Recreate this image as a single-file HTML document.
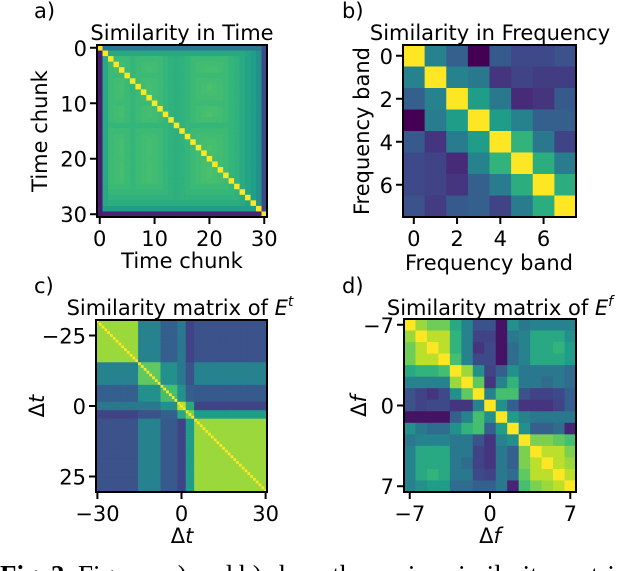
<!DOCTYPE html>
<html><head><meta charset="utf-8"><style>
html,body{margin:0;padding:0;background:#fff;overflow:hidden}
svg{display:block}
text{font-family:"DejaVu Sans","Liberation Sans",sans-serif;fill:#000}
</style></head><body>
<svg id="fig" width="640" height="571" viewBox="0 0 640 571" xmlns="http://www.w3.org/2000/svg">
<g id="content"></g>
<text x="0" y="584" style="font-family:'Liberation Serif',serif;font-size:27px"><tspan font-weight="bold">Fig. 3.</tspan> Figures a) and b) show the cosine similarity matrices</text>
</svg>
<script>
// ---- Panel a data: row / column level profiles (31 time chunks)
const timeRowLevel = [0.4,0.6,0.68,0.69,0.7,0.68,0.69,0.71,0.7,0.69,0.68,0.7,0.71,0.69,0.66,0.68,0.69,0.7,0.71,0.7,0.69,0.7,0.71,0.72,0.7,0.68,0.66,0.64,0.62,0.56,0.1];
const timeColLevel = [0.08,0.6,0.68,0.69,0.7,0.68,0.66,0.68,0.69,0.7,0.69,0.68,0.66,0.64,0.63,0.64,0.66,0.68,0.69,0.7,0.71,0.7,0.69,0.68,0.66,0.64,0.61,0.58,0.56,0.5,0.22];
// ---- Panel b data: 8x8 frequency-band similarity
const freqMatrix = [
[1,.45,.3,.0,.28,.22,.22,.25],
[.45,1,.45,.4,.15,.2,.18,.18],
[.3,.45,1,.55,.4,.12,.15,.28],
[.0,.42,.55,1,.55,.45,.3,.3],
[.28,.15,.42,.55,1,.65,.4,.2],
[.22,.2,.12,.45,.65,1,.62,.42],
[.22,.2,.15,.3,.42,.62,1,.62],
[.25,.18,.28,.3,.2,.42,.62,1]];
const freqTicks = [0,2,4,6];
// ---- Panel c data: block structure over Δt segments
const dtSegmentStarts = [-30,-15,-7,-1,2,5];
const dtSegmentEnds   = [-16,-8,-2,1,4,30];
const dtBlock = [
[.85,.45,.3,.4,.2,.25],
[.45,.75,.5,.4,.25,.45],
[.3,.5,.7,.5,.3,.28],
[.4,.4,.5,.9,.6,.2],
[.2,.25,.3,.6,.8,.55],
[.25,.45,.28,.2,.55,.85]];
const dtTicksY = [-25,0,25];
const dtTicksX = [-30,0,30];
// ---- Panel d data: 15x15 Δf similarity
const dfMatrix = [
[1,.85,.78,.78,.6,.45,.25,.25,.05,.5,.4,.45,.45,.45,.45],
[.85,1,.9,.9,.65,.45,.2,.2,.05,.4,.45,.6,.6,.6,.5],
[.78,.9,1,.9,.65,.45,.15,.22,.05,.35,.45,.6,.6,.65,.55],
[.78,.9,.9,1,.7,.45,.22,.22,.05,.35,.45,.6,.6,.6,.55],
[.6,.65,.65,.7,1,.85,.5,.2,.3,.5,.4,.4,.4,.4,.35],
[.45,.45,.45,.45,.85,1,.75,.15,.45,.65,.4,.4,.35,.4,.35],
[.25,.2,.15,.22,.5,.75,1,.45,.7,.7,.25,.2,.2,.22,.3],
[.25,.2,.22,.22,.15,.15,.45,1,.5,.3,.15,.15,.15,.2,.3],
[.05,.05,.05,.05,.3,.45,.7,.5,1,.55,.45,.4,.4,.4,.4],
[.5,.4,.35,.35,.5,.65,.7,.3,.55,1,.5,.3,.3,.35,.1],
[.4,.45,.45,.45,.4,.4,.25,.15,.45,.5,1,.8,.8,.75,.7],
[.45,.6,.6,.6,.4,.4,.2,.15,.4,.3,.8,1,.9,.9,.8],
[.45,.6,.6,.6,.4,.35,.2,.15,.4,.3,.8,.9,1,.9,.85],
[.45,.6,.65,.6,.4,.4,.22,.2,.4,.35,.75,.9,.9,1,.9],
[.45,.5,.55,.55,.35,.35,.3,.3,.4,.1,.7,.8,.85,.9,1]];
const dfTicks = [-7,0,7];

const NS = "http://www.w3.org/2000/svg";
const root = document.getElementById('content');
const FS = 21;
const VIR = [[68,1,84],[72,40,120],[62,74,137],[49,104,142],[38,130,142],[31,158,137],[53,183,121],[109,205,89],[180,222,44],[253,231,37]];
function viridis(v){
  v=Math.max(0,Math.min(1,v));
  const t=v*(VIR.length-1), i=Math.min(VIR.length-2,Math.floor(t)), f=t-i;
  const c=VIR[i].map((a,k)=>Math.round(a+(VIR[i+1][k]-a)*f));
  return `rgb(${c[0]},${c[1]},${c[2]})`;
}
function mk(tag, attrs, parent){
  const e=document.createElementNS(NS,tag);
  for(const k in attrs) e.setAttribute(k,attrs[k]);
  (parent||root).appendChild(e); return e;
}
function txt(str, x, y, size, anchor, parent, rot){
  const t=mk('text',{x:x,y:y,'font-size':size,'text-anchor':anchor||'middle'},parent);
  if(rot) t.setAttribute('transform',`rotate(-90 ${x} ${y})`);
  t.textContent=str; return t;
}
function panel(name, box, n, valFn, lo, hi, xt, yt){
  const g=mk('g',{});
  
  
  const cw=(box.x1-box.x0)/n, ch=(box.y1-box.y0)/n;
  for(let i=0;i<n;i++)for(let j=0;j<n;j++){
    const r=mk('rect',{x:box.x0+j*cw,y:box.y0+i*ch,width:cw+0.4,height:ch+0.4,fill:viridis(valFn(i,j))},g);
    
    
  }
  const fr=mk('rect',{x:box.x0,y:box.y0,width:box.x1-box.x0,height:box.y1-box.y0,fill:'none',stroke:'#000','stroke-width':2},g);
  
  
  const sx=v=>box.x0+(v-lo+0.5)*cw, sy=v=>box.y0+(v-lo+0.5)*ch;
  xt.forEach(v=>{
    const x=sx(v);
    mk('line',{x1:x,x2:x,y1:box.y1,y2:box.y1+7,stroke:'#000','stroke-width':2},g);
    const t=txt(String(v).replace('-','\u2212'),x,box.y1+29,FS,'middle',g);
    
    
  });
  yt.forEach(v=>{
    const y=sy(v);
    mk('line',{x1:box.x0-7,x2:box.x0,y1:y,y2:y,stroke:'#000','stroke-width':2},g);
    const t=txt(String(v).replace('-','\u2212'),box.x0-10,y+8,FS,'end',g);
    
    
  });
  return g;
}
panel('panel-a-time-heatmap',{x0:97,y0:45,x1:267,y1:217},31,
  (i,j)=> i===j?1:Math.min(timeRowLevel[i],timeColLevel[j]),0,30,[0,10,20,30],[0,10,20,30]);
panel('panel-b-frequency-heatmap',{x0:403,y0:45,x1:576,y1:217},8,
  (i,j)=>freqMatrix[i][j],0,7,freqTicks,freqTicks);
function seg(v){for(let k=0;k<dtSegmentStarts.length;k++) if(v>=dtSegmentStarts[k]&&v<=dtSegmentEnds[k]) return k; return 0;}
panel('panel-c-dt-heatmap',{x0:96,y0:320,x1:267,y1:492},61,
  (i,j)=>{const a=i-30,b=j-30; if(a===b) return 1; return dtBlock[seg(a)][seg(b)];},-30,30,dtTicksX,dtTicksY);
panel('panel-d-df-heatmap',{x0:404,y0:319,x1:576,y1:492},15,
  (i,j)=>dfMatrix[i][j],-7,7,dfTicks,dfTicks);

const L=[
 ['panel-a-label','a)',34,18,FS,'start'],
 ['panel-b-label','b)',342,18,FS,'start'],
 ['panel-c-label','c)',34,293,FS,'start'],
 ['panel-d-label','d)',342,293,FS,'start'],
 ['panel-a-title','Similarity in Time',182,40,FS,'middle'],
 ['panel-b-title','Similarity in Frequency',490,40,FS,'middle'],
 ['panel-a-x-label','Time chunk',182,268,FS,'middle'],
 ['panel-b-x-label','Frequency band',489,270,FS,'middle']];
L.forEach(l=>{const t=txt(l[1],l[2],l[3],l[4],l[5]);
  
  });
function deltaLabel(name,sym,x,y,rot){
  const t=txt('\u0394',x,y,FS,'middle',null,rot);
  
  
  const s=mk('tspan',{'font-style':'italic'},t); s.textContent=sym;
}
deltaLabel('panel-c-x-label','t',182,543,false);
deltaLabel('panel-d-x-label','f',490,543,false);
deltaLabel('panel-c-y-label','t',44,406,true);
deltaLabel('panel-d-y-label','f',366,406,true);
const tc=txt('Similarity matrix of ',180,315,FS,'middle');


const ts1=mk('tspan',{'font-style':'italic'},tc); ts1.textContent='E';
const ts2=mk('tspan',{'font-size':14,dy:-9,'font-style':'italic'},tc); ts2.textContent='t';
const td=txt('Similarity matrix of ',500,315,FS,'middle');


const ts3=mk('tspan',{'font-style':'italic'},td); ts3.textContent='E';
const ts4=mk('tspan',{'font-size':14,dy:-9,'font-style':'italic'},td); ts4.textContent='f';
const ya=txt('Time chunk',47,131,FS,'middle',null,true);


const yb=txt('Frequency band',369,131,FS,'middle',null,true);


</script>
</body></html>
